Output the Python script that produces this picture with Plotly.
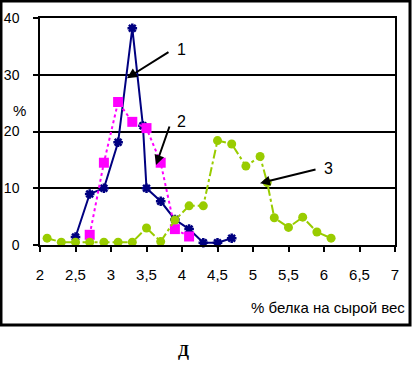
import plotly.graph_objects as go

# Series 1 (navy, solid)
s1_x = [2.5, 2.7, 2.9, 3.1, 3.3, 3.45, 3.5, 3.7, 3.9, 4.1, 4.3, 4.5, 4.7]
s1_y = [1.4, 9.0, 10.0, 18.1, 38.2, 21.0, 10.0, 7.7, 4.5, 2.8, 0.4, 0.4, 1.2]
# Series 2 (magenta, dotted)
s2_x = [2.7, 2.9, 3.1, 3.3, 3.5, 3.7, 3.9, 4.1]
s2_y = [1.8, 14.5, 25.2, 21.7, 20.6, 14.5, 2.8, 1.5]
# Series 3 (yellow-green, dash-dot)
s3_x = [2.1, 2.3, 2.5, 2.7, 2.9, 3.1, 3.3, 3.5, 3.7, 3.9, 4.1, 4.3, 4.5, 4.7,
        4.9, 5.1, 5.2, 5.3, 5.5, 5.7, 5.9, 6.1]
s3_y = [1.2, 0.5, 0.5, 0.5, 0.5, 0.5, 0.5, 3.0, 0.6, 4.4, 6.9, 6.9, 18.4, 17.8,
        13.9, 15.6, 11.0, 4.8, 3.1, 4.9, 2.3, 1.2]

x_ticks = [2, 2.5, 3, 3.5, 4, 4.5, 5, 5.5, 6, 6.5, 7]
y_ticks = [0, 10, 20, 30, 40]

FONT = "Liberation Sans, Arial, sans-serif"

fig = go.Figure()
fig.add_trace(go.Scatter(
    x=s1_x, y=s1_y, mode="lines+markers", cliponaxis=False,
    line=dict(color="#000080", width=2),
    marker=dict(symbol="asterisk-open", size=8, color="#000080",
                line=dict(color="#000080", width=2.5)),
))
fig.add_trace(go.Scatter(
    x=s2_x, y=s2_y, mode="lines+markers", cliponaxis=False,
    line=dict(color="#FF00FF", width=2, dash="dot"),
    marker=dict(symbol="square", size=10, color="#FF00FF"),
))
fig.add_trace(go.Scatter(
    x=s3_x, y=s3_y, mode="lines+markers", cliponaxis=False,
    line=dict(color="#99CC00", width=2, dash="dashdot"),
    marker=dict(symbol="circle", size=9, color="#99CC00"),
))

# arrows (tip at data point, tail offset in px)
arrows = [
    (3.225, 29.4, 43, -27),
    (3.634, 14.1, 14, -40),
    (5.099, 10.9, 57, -14),
]
for ax_, ay_, dx, dy in arrows:
    fig.add_annotation(x=ax_, y=ay_, ax=dx, ay=dy, text="", showarrow=True,
                       arrowhead=2, arrowsize=1, arrowwidth=2, arrowcolor="black")

labels = [("1", 3.986, 34.4), ("2", 3.986, 21.85), ("3", 6.07, 13.4)]
for t, lx, ly in labels:
    fig.add_annotation(x=lx, y=ly, text=t, showarrow=False,
                       font=dict(family=FONT, size=16, color="black"))

fig.add_annotation(xref="paper", yref="paper", x=-0.0817, y=0.5947, text="%",
                   showarrow=False, font=dict(family=FONT, size=15, color="black"))
fig.add_annotation(xref="paper", yref="paper", x=1.0338, y=-0.2775,
                   text="% белка на сырой вес", showarrow=False,
                   xanchor="right", yanchor="middle",
                   font=dict(family=FONT, size=15, color="black"))
fig.add_annotation(xref="paper", yref="paper", x=0.4056, y=-0.5154, text="<b>Д</b>",
                   showarrow=False,
                   font=dict(family="Liberation Serif, serif", size=16, color="black"))

# outer chart frame
fig.add_shape(type="rect", xref="paper", yref="paper",
              x0=-0.1099, x1=1.0423, y0=-0.3524, y1=1.0749,
              line=dict(color="black", width=3))

fig.update_xaxes(range=[2, 7], tickvals=x_ticks, showgrid=False, zeroline=False,
                 automargin=False,
                 showline=True, linecolor="black", linewidth=1.5, mirror=True,
                 ticks="outside", ticklen=5, tickwidth=1.5, tickcolor="black",
                 ticklabelstandoff=10,
                 tickfont=dict(family=FONT, size=15, color="black"))
fig.update_yaxes(range=[0, 40], tickvals=y_ticks, showgrid=True, gridcolor="black",
                 gridwidth=1.5, zeroline=False, automargin=False,
                 showline=True, linecolor="black", linewidth=1.5, mirror=True,
                 ticks="outside", ticklen=5, tickwidth=1.5, tickcolor="black",
                 ticklabelstandoff=11,
                 tickfont=dict(family=FONT, size=14, color="black"))

fig.update_layout(
    template="none",
    width=412, height=374,
    margin=dict(l=40, r=17, t=18, b=129, pad=0),
    paper_bgcolor="white", plot_bgcolor="white",
    showlegend=False, separators=", ",
)

fig.write_html("out.html", config={"displayModeBar": False},
               post_script="document.body.style.margin='0';")
